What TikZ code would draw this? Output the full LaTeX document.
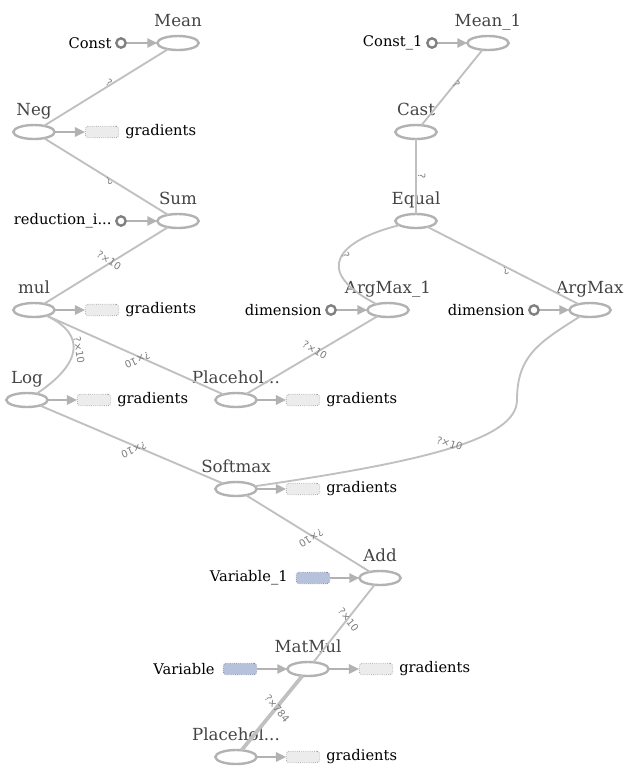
\documentclass[tikz,border=0pt]{standalone}
\usepackage{fontspec}
\setmainfont{DejaVu Serif}
\newfontfamily\edgefont{DejaVu Sans}
\usetikzlibrary{positioning,arrows.meta,shapes.geometric}

\definecolor{opline}{RGB}{178,178,178}
\definecolor{edgeline}{RGB}{192,192,192}
\definecolor{opname}{RGB}{68,68,68}
\definecolor{cstline}{RGB}{128,128,128}
\definecolor{gradfill}{RGB}{236,236,236}
\definecolor{gradline}{RGB}{160,160,160}
\definecolor{varfill}{RGB}{182,194,220}
\definecolor{varline}{RGB}{120,132,170}
\definecolor{dimtext}{RGB}{125,125,125}

\tikzset{
  op/.style={ellipse, draw=opline, line width=1.8pt, minimum width=31pt, minimum height=10.5pt, inner sep=0pt, outer sep=0pt},
  oplbl/.style={anchor=base, label distance=7.5pt, font=\fontsize{12.5}{14}\selectfont, text=opname, inner sep=0pt},
  cst/.style={circle, draw=cstline, line width=1.8pt, minimum size=7pt, inner sep=0pt},
  gradbox/.style={rectangle, rounded corners=2pt, draw=gradline, densely dotted, line width=0.6pt, fill=gradfill, minimum width=25pt, minimum height=8.5pt, inner sep=0pt},
  varbox/.style={gradbox, draw=varline, fill=varfill},
  antext/.style={font=\fontsize{11}{13}\selectfont, inner sep=0pt},
  flow/.style={draw=edgeline, line width=1.4pt},
  annot/.style={draw=opline, line width=1.3pt, -{Triangle[length=7.5pt,width=7pt]}},
  dims/.style={font=\edgefont\fontsize{7.5}{8}\selectfont, text=dimtext, sloped, allow upside down, above, inner sep=0.8pt},
}

\begin{document}
\begin{tikzpicture}[x=0.75pt,y=0.75pt,yscale=-1,xscale=1]
\useasboundingbox (0,0) rectangle (625,769);

% left column
\node[op, label={[oplbl]90:Mean}] (mean) at (178,43) {};
\node[cst] (const) at (121,43) {};
\node[antext, left=2.5pt of const] (constT) {Const};
\draw[annot] (const) -- (mean);

\node[op, label={[oplbl]90:Neg}] (neg) at (34,132) {};
\node[gradbox] (negG) at (102,132) {};
\node[antext, right=4.5pt of negG] (negGT) {gradients};
\draw[annot] (neg) -- (negG);

\node[op, label={[oplbl]90:Sum}] (sum) at (178,221) {};
\node[cst] (redidx) at (121,221) {};
\node[antext, left=2.5pt of redidx] (redidxT) {reduction\_i...};
\draw[annot] (redidx) -- (sum);

\node[op, label={[oplbl]90:mul}] (mul) at (34,310) {};
\node[gradbox] (mulG) at (102,310) {};
\node[antext, right=4.5pt of mulG] (mulGT) {gradients};
\draw[annot] (mul) -- (mulG);

\node[op, label={[oplbl]90:Log}] (log) at (27,400) {};
\node[gradbox] (logG) at (94,400) {};
\node[antext, right=4.5pt of logG] (logGT) {gradients};
\draw[annot] (log) -- (logG);

% right column
\node[op, label={[oplbl]90:Mean\_1}] (mean1) at (488,43) {};
\node[cst] (const1) at (432,43) {};
\node[antext, left=2.5pt of const1] (const1T) {Const\_1};
\draw[annot] (const1) -- (mean1);

\node[op, label={[oplbl]90:Cast}] (cast) at (416,132) {};
\node[op, label={[oplbl]90:Equal}] (equal) at (416,221) {};

\node[op, label={[oplbl]90:ArgMax\_1}] (argmax1) at (388,310) {};
\node[cst] (dim1) at (331,310) {};
\node[antext, left=2.5pt of dim1] (dim1T) {dimension};
\draw[annot] (dim1) -- (argmax1);

\node[op, label={[oplbl]90:ArgMax}] (argmax) at (590,310) {};
\node[cst] (dim2) at (534,310) {};
\node[antext, left=2.5pt of dim2] (dim2T) {dimension};
\draw[annot] (dim2) -- (argmax);

% middle
\node[op, label={[oplbl]90:Placehol...}] (ph1) at (236,400) {};
\node[gradbox] (ph1G) at (303,400) {};
\node[antext, right=4.5pt of ph1G] (ph1GT) {gradients};
\draw[annot] (ph1) -- (ph1G);

\node[op, label={[oplbl]90:Softmax}] (softmax) at (236,489) {};
\node[gradbox] (smG) at (303,489) {};
\node[antext, right=4.5pt of smG] (smGT) {gradients};
\draw[annot] (softmax) -- (smG);

\node[op, label={[oplbl]90:Add}] (add) at (380,578) {};
\node[varbox] (var1) at (313,578) {};
\node[antext, left=6pt of var1] (var1T) {Variable\_1};
\draw[annot] (var1) -- (add);

\node[op, label={[oplbl]90:MatMul}] (matmul) at (308,669) {};
\node[varbox] (var) at (240,669) {};
\node[antext, left=6pt of var] (varT) {Variable};
\draw[annot] (var) -- (matmul);
\node[gradbox] (mmG) at (376,669) {};
\node[antext, right=4.5pt of mmG] (mmGT) {gradients};
\draw[annot] (matmul) -- (mmG);

\node[op, label={[oplbl]90:Placehol...}] (ph2) at (236,757) {};
\node[gradbox] (ph2G) at (303,757) {};
\node[antext, right=4.5pt of ph2G] (ph2GT) {gradients};
\draw[annot] (ph2) -- (ph2G);

\coordinate (amBend) at (517,400);

% data flow
\draw[flow] (neg) -- node[dims]{?} (mean);
\draw[flow] (sum) -- node[dims]{?} (neg);
\draw[flow] (mul) -- node[dims]{?×10} (sum);
\draw[flow] (log) .. controls (80,365) and (88,335) .. node[dims]{?×10} (mul);
\draw[flow] (ph1) -- node[dims]{?×10} (mul);
\draw[flow] (softmax) -- node[dims]{?×10} (log);
\draw[flow] (cast) -- node[dims]{?} (mean1);
\draw[flow] (equal) -- node[dims]{?} (cast);
\draw[flow] (argmax1) .. controls (310,270) and (340,240) .. node[dims]{?} (equal);
\draw[flow] (argmax) -- node[dims]{?} (equal);
\draw[flow] (ph1) -- node[dims]{?×10} (argmax1);
\draw[flow] (softmax) .. controls (420,462) and (517,440) .. node[dims, pos=0.5]{?×10} (amBend)
  .. controls (517,355) and (540,342) .. (argmax);
\draw[flow] (add) -- node[dims]{?×10} (softmax);
\draw[flow] (matmul) -- node[dims]{?×10} (add);
\draw[flow, line width=2.8pt] (ph2) -- node[dims]{?×784} (matmul);
\end{tikzpicture}
\end{document}
